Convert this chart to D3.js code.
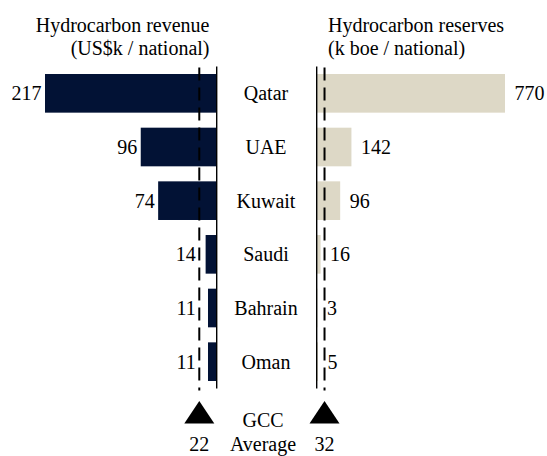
<!DOCTYPE html>
<html>
<head>
<meta charset="utf-8">
<script src="https://cdn.jsdelivr.net/npm/d3@7"></script>
<style>
  body { margin: 0; background: #fff; }
  svg text { font-family: "Liberation Serif", "Times New Roman", serif; fill: #000; }
</style>
</head>
<body>
<div id="chart"></div>
<script>
const countries = ["Qatar", "UAE", "Kuwait", "Saudi", "Bahrain", "Oman"];
const revenue = [217, 96, 74, 14, 11, 11];
const reserves = [770, 142, 96, 16, 3, 5];
const revenueAvg = 22;
const reservesAvg = 32;
const revenueTitle = ["Hydrocarbon revenue", "(US$k / national)"];
const reservesTitle = ["Hydrocarbon reserves", "(k boe / national)"];
const avgLabel = ["GCC", "Average"];

const width = 547, height = 456;
const leftAxis = 216.7, rightAxis = 316.7;
const fontSize = "20px";

const svg = d3.select("#chart")
    .append("svg")
    .attr("width", width)
    .attr("height", height);

// rows
const y = d3.scaleBand()
    .domain(countries)
    .range([66.5, 388.5])
    .paddingInner(0.28)
    .paddingOuter(0.14);

// left side grows leftwards from the axis
const xRev = d3.scaleLinear()
    .domain([0, 217])
    .range([leftAxis, 45]);

// right side grows rightwards
const xRes = d3.scaleLinear()
    .domain([0, 770])
    .range([rightAxis, 505]);

const rows = countries.map((c, i) => ({ name: c, rev: revenue[i], res: reserves[i] }));

// revenue bars
svg.selectAll("rect.rev")
    .data(rows)
    .join("rect")
    .attr("class", "rev")
    .attr("x", d => xRev(d.rev))
    .attr("y", d => y(d.name))
    .attr("width", d => xRev(0) - xRev(d.rev))
    .attr("height", y.bandwidth())
    .style("fill", "#021235");

// reserve bars
svg.selectAll("rect.res")
    .data(rows)
    .join("rect")
    .attr("class", "res")
    .attr("x", xRes(0))
    .attr("y", d => y(d.name))
    .attr("width", d => xRes(d.res) - xRes(0))
    .attr("height", y.bandwidth())
    .style("fill", "#ddd8c6");

// axis lines
const [r0, r1] = y.range();
svg.append("line")
    .attr("x1", leftAxis).attr("x2", leftAxis)
    .attr("y1", r0).attr("y2", r1)
    .style("stroke", "#000").style("stroke-width", 1.4);
svg.append("line")
    .attr("x1", rightAxis).attr("x2", rightAxis)
    .attr("y1", r0).attr("y2", r1)
    .style("stroke", "#000").style("stroke-width", 1.4);

// average dashed lines
[xRev(revenueAvg), xRes(reservesAvg)].forEach(x => {
    svg.append("line")
        .attr("x1", x).attr("x2", x)
        .attr("y1", r0 + 1).attr("y2", r1 + 2)
        .style("stroke", "#000")
        .style("stroke-width", 2)
        .style("stroke-dasharray", "13,7");
});

// value labels
svg.selectAll("text.revlab")
    .data(rows)
    .join("text")
    .attr("class", "revlab")
    .attr("x", d => Math.min(xRev(d.rev), xRev(revenueAvg)) - 3.5)
    .attr("y", d => y(d.name) + y.bandwidth() / 2)
    .attr("dy", "0.35em")
    .attr("text-anchor", "end")
    .attr("font-size", fontSize)
    .text(d => d.rev);

svg.selectAll("text.reslab")
    .data(rows)
    .join("text")
    .attr("class", "reslab")
    .attr("x", d => xRes(d.res) + 9.5)
    .attr("y", d => y(d.name) + y.bandwidth() / 2)
    .attr("dy", "0.35em")
    .attr("text-anchor", "start")
    .attr("font-size", fontSize)
    .text(d => d.res);

// country names
svg.selectAll("text.cname")
    .data(rows)
    .join("text")
    .attr("class", "cname")
    .attr("x", 266)
    .attr("y", d => y(d.name) + y.bandwidth() / 2)
    .attr("dy", "0.35em")
    .attr("text-anchor", "middle")
    .attr("font-size", fontSize)
    .text(d => d.name);

// titles
svg.append("text")
    .attr("x", 209.5).attr("y", 31.5)
    .attr("text-anchor", "end")
    .attr("font-size", fontSize)
    .selectAll("tspan")
    .data(revenueTitle)
    .join("tspan")
    .attr("x", 209.5)
    .attr("dy", (d, i) => i ? 23.5 : 0)
    .text(d => d);

svg.append("text")
    .attr("x", 328).attr("y", 31.5)
    .attr("text-anchor", "start")
    .attr("font-size", fontSize)
    .selectAll("tspan")
    .data(reservesTitle)
    .join("tspan")
    .attr("x", 328)
    .attr("dy", (d, i) => i ? 23.5 : 0)
    .text(d => d);

// average markers
[[xRev(revenueAvg), revenueAvg], [xRes(reservesAvg), reservesAvg]].forEach(([x, v]) => {
    svg.append("path")
        .attr("d", `M${x},401 L${x + 15},423.5 L${x - 15},423.5 Z`)
        .style("fill", "#000");
    svg.append("text")
        .attr("x", x)
        .attr("y", 451)
        .attr("text-anchor", "middle")
        .attr("font-size", fontSize)
        .text(v);
});

svg.append("text")
    .attr("x", 263)
    .attr("y", 426.5)
    .attr("text-anchor", "middle")
    .attr("font-size", fontSize)
    .text(avgLabel[0]);
svg.append("text")
    .attr("x", 263)
    .attr("y", 451)
    .attr("text-anchor", "middle")
    .attr("font-size", fontSize)
    .text(avgLabel[1]);
</script>
</body>
</html>
